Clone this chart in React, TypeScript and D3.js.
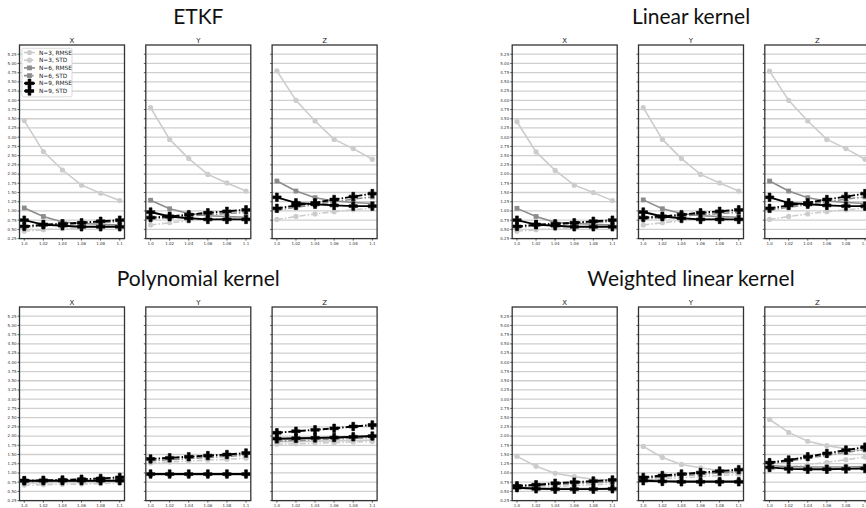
import React from "react";
import * as d3 from "d3";

// ---------- data ----------
const xValues = [1.0, 1.02, 1.04, 1.06, 1.08, 1.1];
const xTickLabels = ["1.0", "1.02", "1.04", "1.06", "1.08", "1.1"];
const yTicks = [0.25, 0.5, 0.75, 1.0, 1.25, 1.5, 1.75, 2.0, 2.25, 2.5, 2.75, 3.0, 3.25, 3.5, 3.75, 4.0, 4.25, 4.5, 4.75, 5.0, 5.25];
const seriesNames = ["N=3, RMSE", "N=3, STD", "N=6, RMSE", "N=6, STD", "N=9, RMSE", "N=9, STD"];
const componentNames = ["X", "Y", "Z"];
const panelTitles = ["ETKF", "Linear kernel", "Polynomial kernel", "Weighted linear kernel"];

// each: [N3 RMSE, N3 STD, N6 RMSE, N6 STD, N9 RMSE, N9 STD]
const etkfX = [
  [3.45, 2.61, 2.11, 1.7, 1.48, 1.28],
  [0.45, 0.49, 0.52, 0.55, 0.57, 0.59],
  [1.08, 0.85, 0.7, 0.66, 0.64, 0.62],
  [0.55, 0.6, 0.63, 0.66, 0.69, 0.71],
  [0.75, 0.63, 0.6, 0.57, 0.57, 0.57],
  [0.58, 0.63, 0.65, 0.68, 0.72, 0.75],
];
const etkfY = [
  [3.8, 2.94, 2.42, 1.99, 1.76, 1.54],
  [0.62, 0.68, 0.73, 0.77, 0.8, 0.82],
  [1.29, 1.06, 0.93, 0.87, 0.85, 0.83],
  [0.78, 0.82, 0.86, 0.9, 0.93, 0.96],
  [0.97, 0.85, 0.8, 0.77, 0.77, 0.77],
  [0.82, 0.85, 0.9, 0.95, 0.99, 1.03],
];
const etkfZ = [
  [4.8, 4.0, 3.44, 2.94, 2.69, 2.4],
  [0.77, 0.85, 0.92, 0.98, 1.03, 1.08],
  [1.81, 1.54, 1.36, 1.27, 1.23, 1.2],
  [1.02, 1.1, 1.17, 1.25, 1.32, 1.38],
  [1.37, 1.22, 1.18, 1.15, 1.13, 1.13],
  [1.07, 1.15, 1.22, 1.31, 1.39, 1.47],
];
const linearX = [
  [3.42, 2.6, 2.1, 1.7, 1.5, 1.28],
  [0.45, 0.49, 0.52, 0.55, 0.57, 0.59],
  [1.07, 0.85, 0.69, 0.66, 0.64, 0.62],
  [0.55, 0.6, 0.63, 0.66, 0.69, 0.71],
  [0.75, 0.63, 0.6, 0.57, 0.57, 0.57],
  [0.58, 0.63, 0.65, 0.68, 0.72, 0.75],
];
const linearY = [
  [3.8, 2.94, 2.42, 1.99, 1.76, 1.54],
  [0.62, 0.68, 0.73, 0.77, 0.8, 0.82],
  [1.3, 1.06, 0.93, 0.87, 0.85, 0.83],
  [0.78, 0.82, 0.86, 0.9, 0.93, 0.96],
  [0.97, 0.85, 0.8, 0.77, 0.77, 0.77],
  [0.82, 0.85, 0.9, 0.95, 0.99, 1.03],
];
const linearZ = [
  [4.79, 4.0, 3.44, 2.94, 2.69, 2.4],
  [0.77, 0.85, 0.92, 0.98, 1.03, 1.08],
  [1.81, 1.54, 1.36, 1.27, 1.23, 1.2],
  [1.02, 1.1, 1.17, 1.25, 1.32, 1.38],
  [1.37, 1.22, 1.18, 1.15, 1.13, 1.13],
  [1.07, 1.15, 1.22, 1.31, 1.39, 1.47],
];
const polyX = [
  [0.73, 0.73, 0.74, 0.74, 0.75, 0.76],
  [0.67, 0.68, 0.69, 0.7, 0.71, 0.73],
  [0.78, 0.78, 0.78, 0.78, 0.78, 0.78],
  [0.76, 0.77, 0.78, 0.79, 0.8, 0.82],
  [0.79, 0.79, 0.79, 0.79, 0.79, 0.79],
  [0.79, 0.8, 0.81, 0.83, 0.85, 0.88],
];
const polyY = [
  [0.95, 0.95, 0.95, 0.95, 0.95, 0.95],
  [1.27, 1.3, 1.32, 1.35, 1.37, 1.4],
  [0.96, 0.96, 0.96, 0.96, 0.96, 0.96],
  [1.33, 1.36, 1.39, 1.42, 1.45, 1.48],
  [0.97, 0.97, 0.97, 0.97, 0.97, 0.97],
  [1.38, 1.41, 1.44, 1.47, 1.5, 1.54],
];
const polyZ = [
  [1.85, 1.85, 1.86, 1.87, 1.88, 1.89],
  [1.78, 1.79, 1.81, 1.82, 1.84, 1.85],
  [1.91, 1.92, 1.93, 1.95, 1.97, 1.99],
  [1.86, 1.88, 1.9, 1.92, 1.94, 1.96],
  [1.93, 1.94, 1.95, 1.96, 1.98, 2.0],
  [2.09, 2.13, 2.17, 2.21, 2.26, 2.3],
];
const weightedX = [
  [1.45, 1.18, 0.99, 0.9, 0.83, 0.8],
  [0.58, 0.61, 0.63, 0.66, 0.68, 0.7],
  [0.62, 0.59, 0.58, 0.58, 0.58, 0.58],
  [0.63, 0.66, 0.68, 0.71, 0.74, 0.76],
  [0.6, 0.57, 0.56, 0.56, 0.56, 0.57],
  [0.65, 0.68, 0.72, 0.75, 0.78, 0.81],
];
const weightedY = [
  [1.72, 1.42, 1.23, 1.14, 1.06, 1.02],
  [0.8, 0.84, 0.87, 0.9, 0.93, 0.96],
  [0.82, 0.79, 0.78, 0.78, 0.78, 0.78],
  [0.85, 0.89, 0.93, 0.96, 1.0, 1.03],
  [0.79, 0.77, 0.76, 0.76, 0.76, 0.76],
  [0.88, 0.93, 0.97, 1.01, 1.05, 1.09],
];
const weightedZ = [
  [2.45, 2.1, 1.86, 1.74, 1.66, 1.6],
  [1.08, 1.15, 1.22, 1.29, 1.36, 1.43],
  [1.2, 1.17, 1.16, 1.16, 1.16, 1.17],
  [1.25, 1.32, 1.4, 1.48, 1.56, 1.63],
  [1.15, 1.11, 1.1, 1.1, 1.11, 1.12],
  [1.28, 1.35, 1.44, 1.53, 1.62, 1.7],
];

const panelData = [
  [etkfX, etkfY, etkfZ],
  [linearX, linearY, linearZ],
  [polyX, polyY, polyZ],
  [weightedX, weightedY, weightedZ],
];

// ---------- styles ----------
const seriesColor = ["#cccccc", "#cccccc", "#8c8c8c", "#8c8c8c", "#000000", "#000000"];
const seriesDash = [null, "6,2,1.5,2", null, "6,2,1.5,2", null, "6,2,1.5,2"];
const seriesMarker = ["circle", "circle", "square", "square", "plus", "plus"];

const panelLeft = [19.5, 512.2];
const rowTop = [45, 307];
const subStep = 126.3;
const subW = 105;
const subH = 193.6;

function Marker({ type, x, y, color }: { type: string; x: number; y: number; color: string }) {
  if (type === "circle") return <circle cx={x} cy={y} r={2.6} fill={color} />;
  if (type === "square") return <rect x={x - 2.4} y={y - 2.4} width={4.8} height={4.8} fill={color} />;
  const p = d3.symbol().type(d3.symbolCross).size(40)();
  return <path d={p || ""} transform={`translate(${x},${y})`} fill={color} stroke={color} strokeWidth={0.6} strokeLinejoin="round" />;
}

function Subplot({ left, top, data, comp, showY, legend }: any) {
  const x = d3.scaleLinear().domain([0.995, 1.105]).range([left, left + subW]);
  const y = d3.scaleLinear().domain([0.25, 5.5]).range([top + subH, top]);
  const line = d3
    .line<number>()
    .x((_, i) => x(xValues[i]))
    .y((d) => y(d));
  return (
    <g>
      {yTicks.map((t) => (
        <line key={"g" + t} x1={left} x2={left + subW} y1={y(t)} y2={y(t)} stroke="#cfcfcf" strokeWidth={1.3} />
      ))}
      {data.map((s: number[], si: number) => (
        <g key={si}>
          <path
            d={line(s) || ""}
            fill="none"
            stroke={seriesColor[si]}
            strokeWidth={si >= 4 ? 1.9 : 1.6}
            strokeDasharray={seriesDash[si] || undefined}
          />
          {s.map((v, i) => (
            <Marker key={i} type={seriesMarker[si]} x={x(xValues[i])} y={y(v)} color={seriesColor[si]} />
          ))}
        </g>
      ))}
      <rect x={left} y={top} width={subW} height={subH} fill="none" stroke="#333" strokeWidth={1.3} />
      {yTicks.map((t) => (
        <line key={"t" + t} x1={left - 2} x2={left} y1={y(t)} y2={y(t)} stroke="#333" strokeWidth={0.8} />
      ))}
      {showY &&
        yTicks.map((t) => (
          <text key={"l" + t} x={left - 3} y={y(t) + 1.4} fontSize={4} textAnchor="end" fill="#333" fontFamily="DejaVu Sans">
            {t.toFixed(2)}
          </text>
        ))}
      {xValues.map((v, i) => (
        <g key={"x" + i}>
          <line x1={x(v)} x2={x(v)} y1={top + subH} y2={top + subH + 2} stroke="#333" strokeWidth={0.8} />
          <text x={x(v)} y={top + subH + 6.5} fontSize={4} textAnchor="middle" fill="#333" fontFamily="DejaVu Sans">
            {xTickLabels[i]}
          </text>
        </g>
      ))}
      <text x={left + subW / 2} y={top - 2.5} fontSize={7} textAnchor="middle" fill="#222" fontFamily="DejaVu Sans">
        {comp}
      </text>
      {legend && (
        <g>
          <rect x={left + 2.5} y={top + 3.3} width={50} height={48.5} rx={1.5} fill="white" stroke="#d0d0d0" strokeWidth={0.8} opacity={0.95} />
          {seriesNames.map((n, i) => {
            const cy = top + 7.5 + i * 7.7;
            return (
              <g key={n}>
                <line x1={left + 4.5} x2={left + 15.5} y1={cy} y2={cy} stroke={seriesColor[i]} strokeWidth={1.6} strokeDasharray={seriesDash[i] || undefined} />
                <Marker type={seriesMarker[i]} x={left + 10} y={cy} color={seriesColor[i]} />
                <text x={left + 19.5} y={cy + 2} fontSize={5.8} fill="#222" fontFamily="DejaVu Sans">
                  {n}
                </text>
              </g>
            );
          })}
        </g>
      )}
    </g>
  );
}

export default function App() {
  return (
    <svg width={866} height={508} style={{ position: "absolute", left: 0, top: 0, background: "white" }}>
      {panelTitles.map((title, p) => {
        const col = p % 2;
        const row = Math.floor(p / 2);
        const pl = panelLeft[col];
        const top = rowTop[row];
        return (
          <g key={title}>
            <text
              x={pl + (2 * subStep + subW) / 2}
              y={top - 21.5}
              fontSize={21}
              textAnchor="middle"
              fill="#111"
              fontFamily="Lato"
            >
              {title}
            </text>
            {componentNames.map((c, ci) => (
              <Subplot
                key={c}
                left={pl + ci * subStep}
                top={top}
                data={panelData[p][ci]}
                comp={c}
                showY={ci === 0}
                legend={p === 0 && ci === 0}
              />
            ))}
          </g>
        );
      })}
    </svg>
  );
}
